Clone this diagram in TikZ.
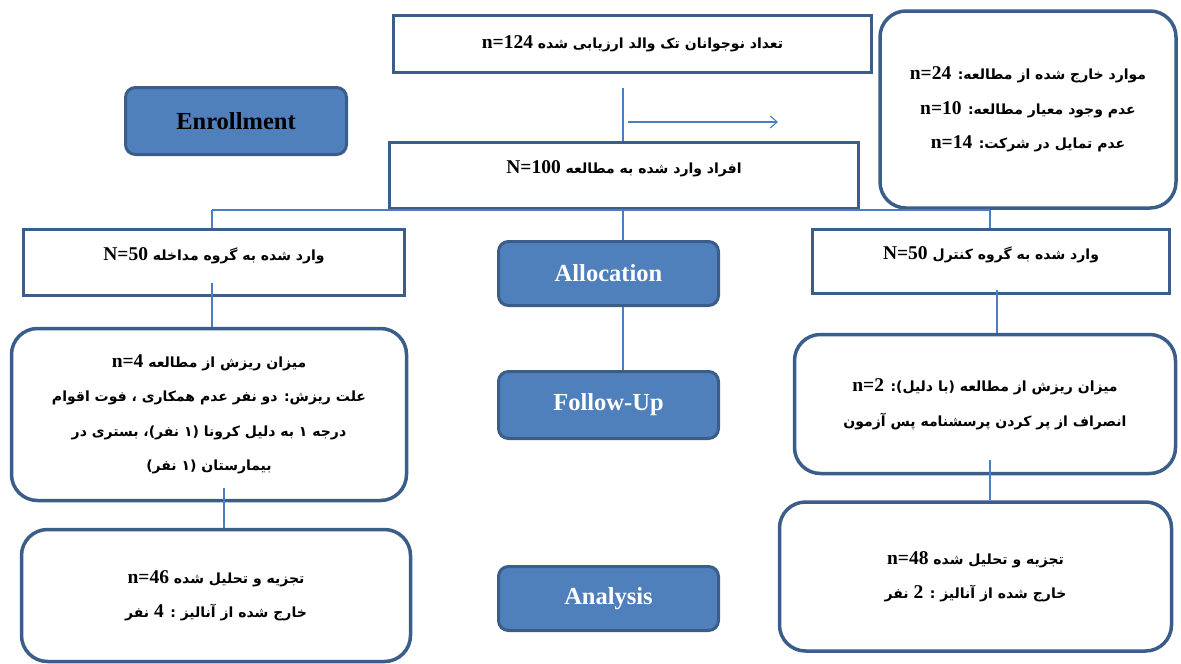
\documentclass[tikz,border=0pt]{standalone}
\usepackage{fontspec}
\setmainfont{Liberation Serif}
\newfontfamily\fa[Script=Arabic]{DejaVu Sans}
\TeXXeTstate=1
\usetikzlibrary{arrows.meta}
\definecolor{bord}{HTML}{3A5D8A}
\definecolor{bfill}{HTML}{4F80BC}
\definecolor{thin}{HTML}{4A7EC0}
\newcommand{\fl}[1]{\beginR #1\endR}
\newcommand{\lt}[1]{\beginL{\normalfont\bfseries\fontsize{19.5}{34}\selectfont #1}\endL}
\tikzset{
  sqbox/.style={draw=bord, line width=3.5pt, fill=white, rectangle, inner sep=0pt,
    font=\fa\bfseries\fontsize{14}{34.5}\selectfont, align=center},
  rdbox/.style={sqbox, rounded corners=26pt},
  hibox/.style={sqbox, text depth=16pt},
  bluebox/.style={draw=bord, line width=3pt, fill=bfill, rounded corners=10pt, inner sep=0pt,
    font=\bfseries\fontsize{24.5}{28}\selectfont, text=white},
  conn/.style={draw=thin, line width=1.1pt}
}
\begin{document}
\begin{tikzpicture}[x=1pt,y=-1pt]
\useasboundingbox (0,0) rectangle (1181,664);
% boxes
\node[sqbox, minimum width=478pt, minimum height=57pt] (top) at (632.5,44) {\fl{تعداد نوجوانان تک والد ارزیابی شده \lt{n=124}}};
\node[bluebox, text=black, minimum width=221pt, minimum height=67pt] (enr) at (236,121) {Enrollment};
\node[rdbox, minimum width=296pt, minimum height=197pt] (excl) at (1028,109.5) {\fl{موارد خارج شده از مطالعه: \lt{n=24}}\\ \fl{عدم وجود معیار مطالعه: \lt{n=10}}\\ \fl{عدم تمایل در شرکت: \lt{n=14}}};
\node[hibox, minimum width=469pt, minimum height=66pt] (mid) at (624,175.5) {\fl{افراد وارد شده به مطالعه \lt{N=100}}};
\node[hibox, minimum width=381pt, minimum height=66pt] (lgrp) at (214,262.5) {\fl{وارد شده به گروه مداخله \lt{N=50}}};
\node[bluebox, minimum width=220pt, minimum height=64pt] (alloc) at (608.5,273.5) {Allocation};
\node[hibox, minimum width=357pt, minimum height=64pt] (rgrp) at (991,261.5) {\fl{وارد شده به گروه کنترل \lt{N=50}}};
\node[rdbox, minimum width=395pt, minimum height=172pt] (lfu) at (209,414.5) {\fl{میزان ریزش از مطالعه \lt{n=4}}\\ \fl{علت ریزش: دو نفر عدم همکاری ، فوت اقوام}\\ \fl{درجه ۱ به دلیل کرونا (۱ نفر)، بستری در}\\ \fl{بیمارستان (۱ نفر)}};
\node[bluebox, minimum width=220pt, minimum height=67pt] (fu) at (608.5,405) {Follow-Up};
\node[rdbox, minimum width=381pt, minimum height=139pt] (rfu) at (985,404) {\fl{میزان ریزش از مطالعه (با دلیل): \lt{n=2}}\\ \fl{انصراف از پر کردن پرسشنامه پس آزمون}};
\node[rdbox, minimum width=389pt, minimum height=132pt] (lan) at (216,595.5) {\fl{تجزیه و تحلیل شده \lt{n=46}}\\ \fl{خارج شده از آنالیز : \lt{4} نفر}};
\node[bluebox, minimum width=220pt, minimum height=64pt] (an) at (608.5,598.5) {Analysis};
\node[rdbox, minimum width=392pt, minimum height=149pt] (ran) at (975.5,576.5) {\fl{تجزیه و تحلیل شده \lt{n=48}}\\ \fl{خارج شده از آنالیز : \lt{2} نفر}};
% connector points
\coordinate (c1) at (623,88);
\coordinate (a1) at (628,122);
\coordinate (a2) at (778,122);
\coordinate (hl) at (212,210);
\coordinate (hc) at (623,210);
\coordinate (hr) at (990,210);
\coordinate (l1) at (212,283);
\coordinate (l2) at (224,488);
\coordinate (r1) at (997,290);
\coordinate (r2) at (990,460);
% connectors
\draw[conn] (c1) -- (c1 |- mid.north);
\draw[conn, -{Straight Barb[length=7pt,width=12pt]}] (a1) -- (a2);
\draw[conn] (hl) -- (hr);
\draw[conn] (hl) -- (hl |- lgrp.north);
\draw[conn] (hr) -- (hr |- rgrp.north);
\draw[conn] (hc) -- (hc |- alloc.north);
\draw[conn] (alloc.south -| hc) -- (fu.north -| hc);
\draw[conn] (l1) -- (l1 |- lfu.north);
\draw[conn] (l2) -- (l2 |- lan.north);
\draw[conn] (r1) -- (r1 |- rfu.north);
\draw[conn] (r2) -- (r2 |- ran.north);
\end{tikzpicture}
\end{document}
